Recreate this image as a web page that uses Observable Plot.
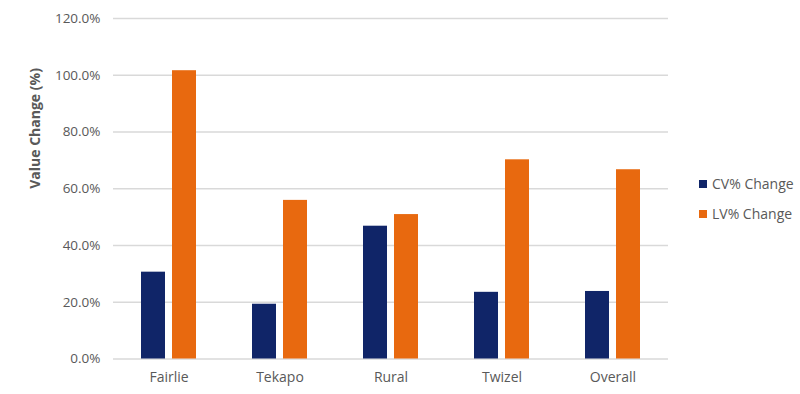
<!DOCTYPE html>
<html>
<head>
<meta charset="utf-8">
<script src="https://cdn.jsdelivr.net/npm/d3@7"></script>
<script src="https://cdn.jsdelivr.net/npm/@observablehq/plot@0.6"></script>
<style>
  html, body { margin: 0; padding: 0; background: #fff; }
  #wrap { position: relative; width: 800px; height: 394px; font-family: "Open Sans", sans-serif; }
  #wrap svg { position: absolute; left: 0; top: 0; }
  .leg { position: absolute; left: 699px; font-size: 14px; color: #595959; display: flex; align-items: center; white-space: nowrap; }
  .sw { width: 8px; height: 8px; margin-right: 5px; }
</style>
</head>
<body>
<div id="wrap"></div>
<script>
const categories = ["Fairlie", "Tekapo", "Rural", "Twizel", "Overall"];
const seriesNames = ["CV% Change", "LV% Change"];
const cvChange = [0.306, 0.193, 0.468, 0.235, 0.238];
const lvChange = [1.016, 0.559, 0.509, 0.702, 0.667];
const seriesColors = ["#102568", "#E8690F"];
const yTicks = [0, 0.2, 0.4, 0.6, 0.8, 1.0, 1.2];

const rows = [];
categories.forEach((c, i) => {
  rows.push({category: c, series: seriesNames[0], value: cvChange[i]});
  rows.push({category: c, series: seriesNames[1], value: lvChange[i]});
});

const chart = Plot.plot({
  width: 800,
  height: 394,
  marginLeft: 111,
  marginRight: 130,
  marginTop: 18,
  marginBottom: 35.5,
  style: {fontFamily: "Open Sans, sans-serif", fontSize: "13px", color: "#595959", background: "transparent"},
  fx: {domain: categories, padding: 0, label: null},
  x: {domain: seriesNames, paddingInner: 0.219, paddingOuter: 0.853, axis: null},
  y: {domain: [0, 1.2], label: null},
  color: {domain: seriesNames, range: seriesColors},
  marks: [
    Plot.ruleY(yTicks, {stroke: "#d9d9d9", strokeWidth: 1.3}),
    Plot.barY(rows, {fx: "category", x: "series", y: "value", fill: "series"}),
    Plot.axisY(yTicks, {tickSize: 0, tickPadding: 13, tickFormat: d => (d * 100).toFixed(1) + "%", fontSize: 13.5, fill: "#595959", label: null}),
    Plot.axisFx({anchor: "bottom", tickSize: 0, tickPadding: 13, fontSize: 14, fill: "#595959", label: null}),
    Plot.text(["Value Change (%)"], {frameAnchor: "left", dx: -78, rotate: -90, fontWeight: "bold", fontSize: 14, fill: "#595959", facet: "super"})
  ]
});
const wrap = document.getElementById("wrap");
wrap.appendChild(chart);

const legTops = [184, 214];
seriesNames.forEach((s, i) => {
  const d = document.createElement("div");
  d.className = "leg";
  d.style.top = (legTops[i] - 10) + "px";
  d.innerHTML = `<div class="sw" style="background:${seriesColors[i]}"></div><span>${s}</span>`;
  wrap.appendChild(d);
});
</script>
</body>
</html>
